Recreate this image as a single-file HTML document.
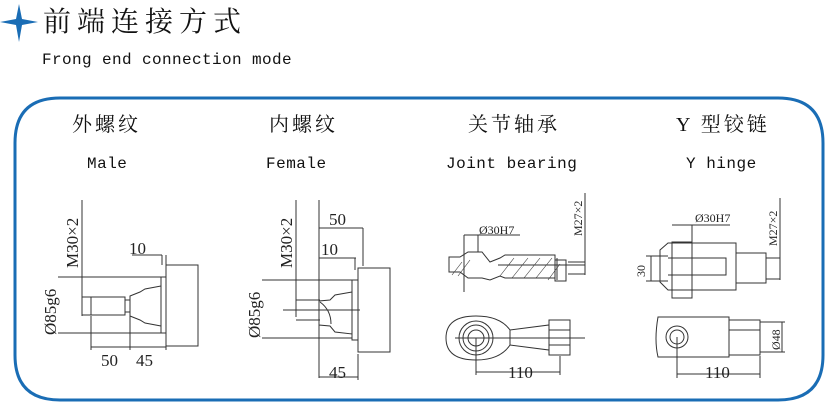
<!DOCTYPE html>
<html><head><meta charset="utf-8"><style>
html,body{margin:0;padding:0;background:#fff;}
svg{display:block;}
.cn{font-family:"Liberation Serif","Noto Serif CJK SC",serif;}
.m{font-family:"Liberation Mono","DejaVu Sans Mono",monospace;}
.d{font-family:"Liberation Serif",serif;font-size:17px;fill:#222;}
.s{font-family:"Liberation Serif",serif;font-size:12px;fill:#222;}
</style></head><body>
<svg width="829" height="406" viewBox="0 0 829 406" xmlns="http://www.w3.org/2000/svg">
<path d="M19 4 L22 19 L38 22 L22 25 L19 42 L16 25 L0 22 L16 19 Z" fill="#1a6db5"/>
<text x="43" y="31" class="cn" font-size="28" letter-spacing="6" fill="#111">前端连接方式</text>
<text x="42" y="64" class="m" font-size="16" letter-spacing="0.4" fill="#111">Frong end connection mode</text>
<path d="M60 98 H778 Q823 98 823 143 V355 Q823 400 778 400 H60 Q15 400 15 355 V143 Q15 98 60 98 Z" fill="none" stroke="#1a6db5" stroke-width="3"/>
<g class="cn" font-size="20" letter-spacing="3" fill="#111">
<text x="72" y="131">外螺纹</text><text x="269" y="131">内螺纹</text>
<text x="468" y="131">关节轴承</text><text x="676" y="131">Y 型铰链</text></g>
<g class="m" font-size="16" letter-spacing="0.5" fill="#111">
<text x="87" y="168">Male</text><text x="266" y="168">Female</text>
<text x="446" y="168">Joint bearing</text><text x="686" y="168">Y hinge</text></g>
<g fill="none" stroke="#333" stroke-width="1">
<!-- male -->
<rect x="166" y="265" width="32" height="81"/><rect x="161" y="277" width="5" height="56"/>
<path d="M161 286 L145 289 L140 292 L130 296 V316 L140 320 L145 323 L161 326 Z"/>
<rect x="125" y="300" width="5" height="12"/><rect x="91" y="297" width="34" height="18"/>
<path d="M82 200 V316 M82 297 H91 M82 315 H91 M58 277 H161 M58 333 H161 M132 255 H162 M162 255 V265 M166 255 V265 M91 316 V350 M130 316 V350 M166 346 V350 M91 347 H166"/>
<!-- female -->
<rect x="358" y="268" width="32" height="84"/><rect x="352" y="280" width="6" height="60"/>
<path d="M352 292 L335 295 L330 300 L319 301 V325 L330 326 L335 332 L352 334 Z M320 302 Q331 310 331 324"/>
<path d="M296 200 V317 M296 300 H320 M296 320 H320 M283 310 H360 M262 280 H352 M262 338 H352 M319 228 H363 M363 228 V266 M319 200 V378 M319 258 H356 M355 258 V270 M358 354 V380 M319 377 H358"/>
<!-- joint bearing top -->
<path d="M449 257 H460 L468 252 H482 L490 262 L500 258 L505 255 H555 V260 H566 V281 H555 V278 H505 L500 276 L490 280 L482 278 H468 L460 272 H449 Z"/>
<path d="M555 258 V280 M557 258 V280 M464 235 V292 M478 235 V252 M464 235 H520 M498 265 H585 M568 262 H585 M568 274 H585 M585 193 V275"/>
<g stroke-width="0.6"><path d="M452 275 L462 262 M458 276 L470 260 M500 276 L514 258 M512 278 L528 258 M524 278 L540 258 M536 278 L552 258 M548 280 L560 264"/></g>
<!-- joint bearing bottom -->
<path d="M476 316 Q500 316 510 330 L549 325 V350 L510 345 Q500 360 476 360 Q446 360 446 338 Q446 316 476 316 Z"/>
<circle cx="476" cy="338" r="17"/><circle cx="476" cy="338" r="13"/><circle cx="476" cy="338" r="8"/>
<rect x="549" y="320" width="21" height="35"/><path d="M549 330 H570 M549 345 H570 M510 330 V345 M476 338 V375 M476 372 H560 M560 356 V375 M455 338 H585"/>
<!-- y hinge top -->
<path d="M660 250 L668 243 H736 V290 H668 L660 282 Z"/><rect x="672" y="242" width="20" height="56"/>
<rect x="736" y="253" width="30" height="30"/><path d="M668 258 H726 V275 H668 M646 256 H668 M646 281 H668 M651 256 V281 M672 225 H730 M692 225 V242 M766 258 H780 M766 279 H780 M780 198 V280"/>
<!-- y hinge bottom -->
<path d="M658 317 H729 V357 H658 Q654 340 658 317 Z"/><rect x="729" y="320" width="31" height="35"/><path d="M729 330 H760"/>
<circle cx="677" cy="337" r="11"/><circle cx="677" cy="337" r="7"/>
<path d="M677 337 V378 M677 374 H760 M760 356 V378 M760 322 H785 M760 352 H785 M782 322 V352"/>
</g>
<text class="d" x="129" y="254">10</text>
<text class="d" x="101" y="366">50</text><text class="d" x="136" y="366">45</text>
<text class="d" transform="translate(78,268) rotate(-90)">M30×2</text>
<text class="d" transform="translate(56,335) rotate(-90)">Ø85g6</text>
<text class="d" x="329" y="225">50</text><text class="d" x="321" y="255">10</text>
<text class="d" x="329" y="378">45</text>
<text class="d" transform="translate(292,268) rotate(-90)">M30×2</text>
<text class="d" transform="translate(260,338) rotate(-90)">Ø85g6</text>
<text class="s" x="479" y="234">Ø30H7</text>
<text class="s" transform="translate(582,236) rotate(-90)">M27×2</text>
<text class="d" x="508" y="378">110</text>
<text class="s" x="695" y="222">Ø30H7</text>
<text class="s" transform="translate(777,246) rotate(-90)">M27×2</text>
<text class="s" transform="translate(645,277) rotate(-90)">30</text>
<text class="s" transform="translate(780,350) rotate(-90)">Ø48</text>
<text class="d" x="705" y="378">110</text>
</svg>
</body></html>
